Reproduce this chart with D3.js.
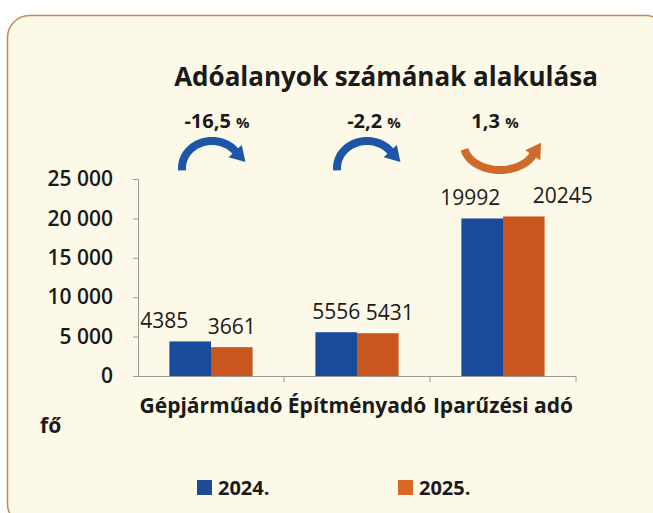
<!DOCTYPE html>
<html>
<head>
<meta charset="utf-8">
<script src="https://cdn.jsdelivr.net/npm/d3@7"></script>
<style>
  body { margin: 0; background: #fff; }
  svg { display: block; font-family: "Open Sans", sans-serif; }
</style>
</head>
<body>
<svg id="chart" width="653" height="513"></svg>
<script>
// data
var categories = ["Gépjárműadó", "Építményadó", "Iparűzési adó"];
var years = ["2024.", "2025."];
var values2024 = [4385, 5556, 19992];
var values2025 = [3661, 5431, 20245];
var yTicks = [0, 5000, 10000, 15000, 20000, 25000];

var _color = {
	y2024: "#1a4b9b",
	y2025: "#c9561f",
	arrowDown: "#1d56a6",
	arrowUp: "#d06a2a",
	card: "#fdf9e8",
	border: "#c98650",
	axis: "#9a9a9a",
	text: "#1a1a1a"
};

// manual nudges of the labels, like in the original
var labelDx = { "2024.": [-26, 0, -12], "2025.": [0, 12, 39] };
var arrowDx = [1, 10, -3];
var pctDx = [6, 17, -8];

var hu = d3.formatLocale({ decimal: ",", thousands: " ", grouping: [3], currency: ["", ""], minus: "-" });
var fmtTick = hu.format(",d");
var fmtPct = hu.format(".1f");

var svg = d3.select("#chart");

// card background
svg.append("rect")
	.attr("x", 7.5).attr("y", 15.5)
	.attr("width", 660).attr("height", 510)
	.attr("rx", 22).attr("ry", 22)
	.attr("fill", _color.card)
	.attr("stroke", _color.border)
	.attr("stroke-width", 1.5);

var plot = { left: 138, right: 576, top: 179, bottom: 376 };

var x = d3.scaleBand().domain(categories).range([plot.left, plot.right]);
var bw = x.bandwidth();
var groupW = bw * 0.57;
var xSub = d3.scaleBand().domain(years).range([(bw - groupW) / 2, (bw + groupW) / 2]);
var y = d3.scaleLinear().domain([0, 25000]).range([plot.bottom, plot.top]);

var series = years.map(function(yr, i){
	var vals = i === 0 ? values2024 : values2025;
	return { year: yr, color: i === 0 ? _color.y2024 : _color.y2025,
		values: categories.map(function(c, j){ return { cat: c, value: vals[j], idx: j }; }) };
});

// title
svg.append("text")
	.attr("x", 386).attr("y", 86)
	.attr("text-anchor", "middle")
	.attr("font-size", 26).attr("font-weight", 700)
	.attr("fill", _color.text)
	.text("Adóalanyok számának alakulása");

// y axis
var yAxis = d3.axisLeft(y).tickValues(yTicks).tickFormat(fmtTick).tickSize(5).tickPadding(20);
var gy = svg.append("g").attr("transform", "translate(" + plot.left + ",0)").call(yAxis);
gy.select(".domain").attr("stroke", _color.axis);
gy.selectAll(".tick line").attr("stroke", _color.axis);
gy.selectAll(".tick text")
	.attr("font-size", 21).attr("font-weight", 600)
	.attr("font-family", "Open Sans, sans-serif")
	.attr("fill", _color.text);

// bars
var groups = svg.append("g").selectAll("g.series")
	.data(series).enter().append("g").attr("class", "series");

groups.selectAll("rect")
	.data(function(s){ return s.values.map(function(v){ return Object.assign({ year: s.year, color: s.color }, v); }); })
	.enter().append("rect")
	.attr("x", function(d){ return x(d.cat) + xSub(d.year); })
	.attr("y", function(d){ return y(d.value); })
	.attr("width", xSub.bandwidth())
	.attr("height", function(d){ return y(0) - y(d.value); })
	.attr("fill", function(d){ return d.color; });

groups.selectAll("text")
	.data(function(s){ return s.values.map(function(v){ return Object.assign({ year: s.year }, v); }); })
	.enter().append("text")
	.attr("x", function(d){ return x(d.cat) + xSub(d.year) + xSub.bandwidth() / 2 + labelDx[d.year][d.idx]; })
	.attr("y", function(d){ return y(d.value) - 13; })
	.attr("text-anchor", "middle")
	.attr("font-size", 21)
	.attr("fill", _color.text)
	.text(function(d){ return d.value; });

// x axis
var xAxis = d3.axisBottom(x).tickSize(0).tickPadding(22);
var gx = svg.append("g").attr("transform", "translate(0," + plot.bottom + ")").call(xAxis);
gx.select(".domain").attr("stroke", _color.axis).attr("d", "M" + plot.left + ",0.5H" + plot.right);
gx.selectAll(".tick text")
	.attr("font-size", 21).attr("font-weight", 700)
	.attr("font-family", "Open Sans, sans-serif")
	.attr("fill", _color.text);
// category separators
gx.selectAll("line.sep")
	.data(categories).enter().append("line").attr("class", "sep")
	.attr("x1", function(c){ return x(c) + bw; }).attr("x2", function(c){ return x(c) + bw; })
	.attr("y1", 0).attr("y2", 6)
	.attr("stroke", _color.axis);

// unit
svg.append("text")
	.attr("x", 40).attr("y", 433)
	.attr("font-size", 21).attr("font-weight", 700)
	.attr("fill", _color.text)
	.text("fő");

// change arrows
var arrows = svg.append("g");
function drawArrow(cx, cy, rx, ry, a0, a1, color){
	var steps = d3.range(0, 31).map(function(i){ return (a0 + (a1 - a0) * i / 30) * Math.PI / 180; });
	var pts = steps.map(function(a){ return [cx + rx * Math.cos(a), cy + ry * Math.sin(a)]; });
	arrows.append("path")
		.attr("d", d3.line()(pts))
		.attr("fill", "none").attr("stroke", color).attr("stroke-width", 8);
	var e = pts[pts.length - 1], p = pts[pts.length - 3];
	var dx = e[0] - p[0], dy = e[1] - p[1], len = Math.sqrt(dx * dx + dy * dy);
	dx /= len; dy /= len;
	var tip = [e[0] + dx * 13, e[1] + dy * 13];
	var b = [e[0] - dx * 2, e[1] - dy * 2];
	arrows.append("path")
		.attr("d", "M" + tip + "L" + [b[0] - dy * 9, b[1] + dx * 9] + "L" + [b[0] + dy * 9, b[1] - dx * 9] + "Z")
		.attr("fill", color);
}

categories.forEach(function(c, i){
	var v0 = values2024[i], v1 = values2025[i];
	var pct = (v1 - v0) / v0 * 100;
	var cx = x(c) + bw / 2;
	if (pct < 0) {
		drawArrow(cx + arrowDx[i], 168, 30, 27, 175, 325, _color.arrowDown);
	} else {
		drawArrow(cx + arrowDx[i], 145, 36, 25, 170, 20, _color.arrowUp);
	}
	var t = svg.append("text")
		.attr("x", cx + pctDx[i]).attr("y", 128)
		.attr("text-anchor", "middle")
		.attr("font-weight", 700)
		.attr("fill", _color.text);
	t.append("tspan").attr("font-size", 20).text(fmtPct(pct) + " ");
	t.append("tspan").attr("font-size", 15).text("%");
});

// legend
var legend = svg.append("g").selectAll("g")
	.data(series).enter().append("g")
	.attr("transform", function(d, i){ return "translate(" + (197 + i * 201) + ",480)"; });
legend.append("rect")
	.attr("width", 15).attr("height", 15)
	.attr("fill", function(d, i){ return i === 0 ? "#1c4a94" : "#d86a25"; });
legend.append("text")
	.attr("x", 21).attr("y", 15)
	.attr("font-size", 20).attr("font-weight", 700)
	.attr("fill", _color.text)
	.text(function(d){ return d.year; });
</script>
</body>
</html>
